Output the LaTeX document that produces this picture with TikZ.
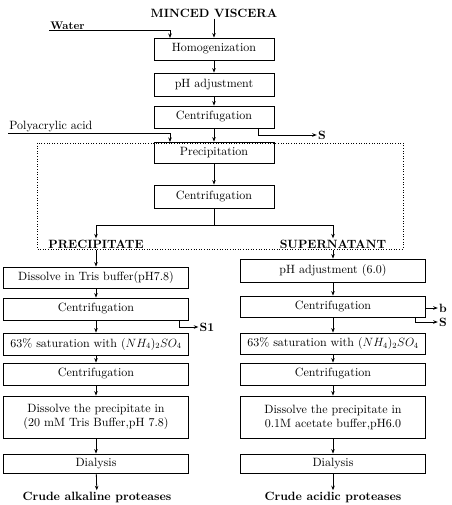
\documentclass[tikz,border=0pt]{standalone}
\usepackage{fontspec}
\setmainfont{lmroman10-regular.otf}[BoldFont=lmroman10-bold.otf]
\usetikzlibrary{arrows.meta}
\begin{document}
\begin{tikzpicture}[x=1pt,y=-1pt,line width=0.8pt,
    every node/.style={font=\fontsize{12}{14}\selectfont},
    midbox/.style={draw,minimum width=120pt,minimum height=22pt,inner sep=0pt},
    sidebox/.style={draw,minimum width=185pt,minimum height=22pt,inner sep=0pt,align=center},
    heading/.style={font=\fontsize{12}{14}\selectfont\bfseries,inner sep=1pt},
    flow/.style={-{Stealth[length=4.5pt,width=3.5pt]}}]
    \useasboundingbox (0,0) rectangle (451,505);

    % main line
    \node[heading] (viscera) at (214,13) {MINCED VISCERA};
    \node[midbox] (homog) at (214,49) {Homogenization};
    \node[midbox,minimum height=23pt] (phadj) at (214,84.5) {pH adjustment};
    \node[midbox] (centA) at (214,117) {Centrifugation};
    \node[midbox,minimum height=21pt] (precip) at (214,152.5) {Precipitation};
    \node[midbox,minimum height=23pt] (centB) at (214,196.5) {Centrifugation};
    \draw[dash pattern=on 1pt off 1.6pt] (37,143) rectangle (403,249);

    \node[heading,font=\fontsize{11}{13}\selectfont\bfseries,anchor=south west] (water) at (49,30.5) {Water};
    \coordinate (homogin) at (170,38);
    \node[anchor=south west,inner sep=1pt] (pacid) at (8,133) {Polyacrylic acid};
    \coordinate (precipin) at (170,142);
    \coordinate (centAout) at (258,128);
    \node[heading] (sA) at (322,135) {S};

    \draw[flow] (viscera) -- (homog);
    \draw[flow] (water.south west) -| (homogin);
    \draw[flow] (homog) -- (phadj);
    \draw[flow] (phadj) -- (centA);
    \draw[flow] (centA) -- (precip);
    \draw[flow] (pacid.south west) -| (precipin);
    \draw[flow] (centAout) |- (sA);
    \draw[flow] (precip) -- (centB);

    % split
    \coordinate (split) at (214,225);
    \node[heading] (preclab) at (96,244) {PRECIPITATE};
    \node[heading] (suplab) at (333,244) {SUPERNATANT};
    \draw (centB) -- (split);
    \draw[flow] (split) -| (preclab);
    \draw[flow] (split) -| (suplab);

    % precipitate branch
    \node[sidebox,minimum height=21pt] (tris) at (96,277.5) {Dissolve in Tris buffer(pH7.8)};
    \node[sidebox] (centL) at (96,309) {Centrifugation};
    \node[sidebox] (satL) at (96,344) {63\% saturation with $(NH_4)_2SO_4$};
    \node[sidebox] (centLL) at (96,374) {Centrifugation};
    \node[sidebox,minimum height=42pt] (dissL) at (96,417) {Dissolve the precipitate in\\(20 mM Tris Buffer,pH 7.8)};
    \node[sidebox,minimum height=19pt] (dialL) at (96,463.5) {Dialysis};
    \node[heading] (alk) at (97,497) {Crude alkaline proteases};
    \coordinate (centLout) at (179,320);
    \node[heading] (sone) at (207,327) {S1};

    \draw[flow] (preclab) -- (tris);
    \draw[flow] (tris) -- (centL);
    \draw[flow] (centL) -- (satL);
    \draw[flow] (centLout) |- (sone);
    \draw[flow] (satL) -- (centLL);
    \draw[flow] (centLL) -- (dissL);
    \draw[flow] (dissL) -- (dialL);
    \draw[flow] (dialL) -- (alk);

    % supernatant branch
    \node[sidebox,minimum height=23pt] (phR) at (333,270.5) {pH adjustment (6.0)};
    \node[sidebox,minimum height=21pt] (centR) at (333,306.5) {Centrifugation};
    \node[sidebox,minimum height=21pt] (satR) at (333,343.5) {63\% saturation with $(NH_4)_2SO_4$};
    \node[sidebox] (centRR) at (333,374) {Centrifugation};
    \node[sidebox,minimum height=42pt] (dissR) at (333,417) {Dissolve the precipitate in\\0.1M acetate buffer,pH6.0};
    \node[sidebox,minimum height=19pt] (dialR) at (333,463.5) {Dialysis};
    \node[heading] (acid) at (333,497) {Crude acidic proteases};
    \node[heading] (bR) at (443,308) {b};
    \coordinate (centRout) at (415,317);
    \node[heading] (sR) at (443,322) {S};

    \draw[flow] (suplab) -- (phR);
    \draw[flow] (phR) -- (centR);
    \draw[flow] (centR.east |- bR) -- (bR);
    \draw[flow] (centRout) |- (sR);
    \draw[flow] (centR) -- (satR);
    \draw[flow] (satR) -- (centRR);
    \draw[flow] (centRR) -- (dissR);
    \draw[flow] (dissR) -- (dialR);
    \draw[flow] (dialR) -- (acid);
\end{tikzpicture}
\end{document}
